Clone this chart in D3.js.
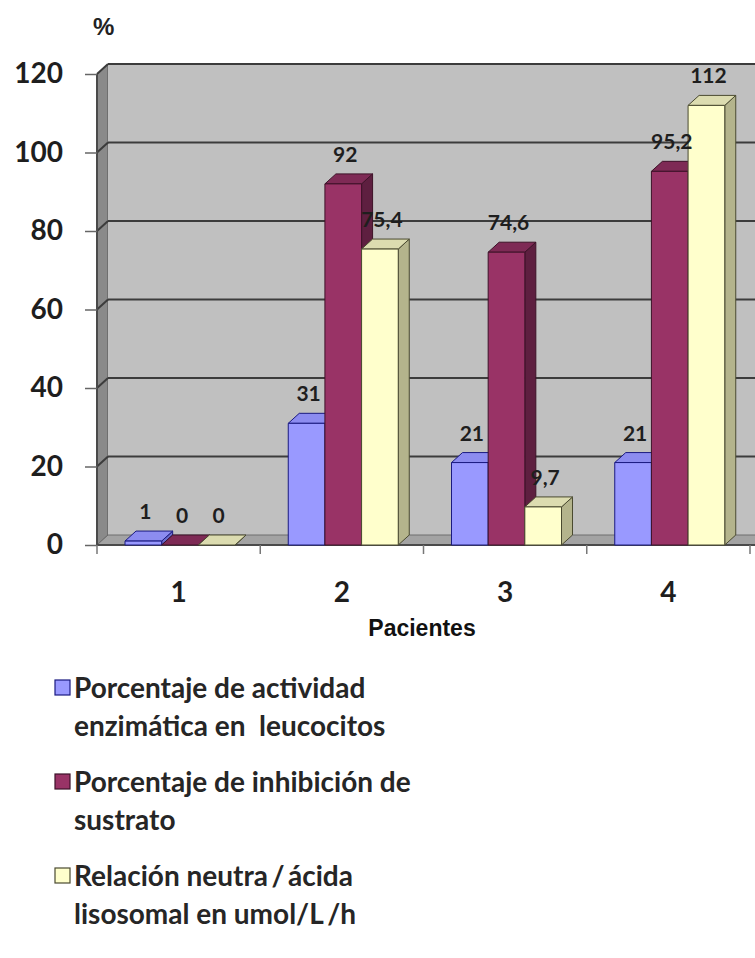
<!DOCTYPE html>
<html>
<head>
<meta charset="utf-8">
<script src="https://cdn.jsdelivr.net/npm/d3@7"></script>
<style>
  html, body { margin: 0; padding: 0; background: #fff; }
  svg { display: block; }
</style>
</head>
<body>
<svg id="chart" width="755" height="958"></svg>
<script>
// Patients on the x axis, three measured series per patient
const categories = ["1", "2", "3", "4"];
const seriesKeys = ["actividad", "inhibicion", "relacion"];
const actividad = [1, 31, 21, 21];
const inhibicion = [0, 92, 74.6, 95.2];
const relacion = [0, 75.4, 9.7, 112];
const yTicks = [0, 20, 40, 60, 80, 100, 120];
const legendLines = [
  ["Porcentaje de actividad", "enzimática en  leucocitos"],
  ["Porcentaje de inhibición de", "sustrato"],
  ["Relación neutra\u2009/\u2009ácida", "lisosomal en umol/L\u2009/h"]
];

const values = { actividad, inhibicion, relacion };

// face colours for each series: front, top, side, outline
const palette = {
  actividad:  { front: "#9999ff", top: "#8c8cf0", side: "#6a6acc", stroke: "#1a1a80" },
  inhibicion: { front: "#993366", top: "#7e2a55", side: "#5e1f40", stroke: "#3d1228" },
  relacion:   { front: "#ffffcc", top: "#dcdcb0", side: "#b4b48c", stroke: "#4a4a30" }
};

const svg = d3.select("#chart");
const W = 755;
const DX = 11, DY = -10;           // oblique depth of the 3D walls and bars
const FONT = "Lato, 'Open Sans', sans-serif";

const y = d3.scaleLinear().domain([0, 120]).range([545, 74]);
const x = d3.scaleBand().domain(categories).range([97, 750]).paddingInner(0).paddingOuter(0);
const x1 = d3.scaleBand().domain(seriesKeys).range([28, 138]).padding(0);

const x0 = x.range()[0];
const y0 = y(0), yTop = y(120);
const pts = a => a.map(p => p.join(",")).join(" ");

// side wall
svg.append("polygon")
  .attr("points", pts([[x0, y0], [x0, yTop], [x0 + DX, yTop + DY], [x0 + DX, y0 + DY]]))
  .attr("fill", "#8a8a8a").attr("stroke", "#555").attr("stroke-width", 1);

// back wall
svg.append("rect")
  .attr("x", x0 + DX).attr("y", yTop + DY)
  .attr("width", W + 20 - x0 - DX).attr("height", y0 - yTop)
  .attr("fill", "#c0c0c0");

// floor
svg.append("polygon")
  .attr("points", pts([[x0, y0], [W + 20, y0], [W + 20 + DX, y0 + DY], [x0 + DX, y0 + DY]]))
  .attr("fill", "#a3a3a3").attr("stroke", "#6e6e6e").attr("stroke-width", 1);

// gridlines across the back wall and down the side wall
const grid = svg.append("g").attr("stroke", "#3c3c3c").attr("stroke-width", 2).attr("fill", "none");
yTicks.filter(t => t > 0).forEach(t => {
  grid.append("line")
    .attr("x1", x0 + DX).attr("x2", W + 20)
    .attr("y1", y(t) + DY).attr("y2", y(t) + DY);
  grid.append("line")
    .attr("x1", x0).attr("x2", x0 + DX)
    .attr("y1", y(t)).attr("y2", y(t) + DY);
});

// front edges of the axes
svg.append("line").attr("x1", x0).attr("x2", x0).attr("y1", y0).attr("y2", yTop)
  .attr("stroke", "#4a4a4a").attr("stroke-width", 2);
svg.append("line").attr("x1", x0).attr("x2", W + 20).attr("y1", y0).attr("y2", y0)
  .attr("stroke", "#4a4a4a").attr("stroke-width", 2);

// y axis ticks and labels
const yAxis = d3.axisLeft(y).tickValues(yTicks).tickSize(12).tickPadding(22);
const gy = svg.append("g").attr("transform", `translate(${x0},0)`).call(yAxis);
gy.select(".domain").remove();
gy.selectAll(".tick line").attr("stroke", "#666").attr("stroke-width", 1.5);
gy.selectAll(".tick text")
  .attr("font-family", FONT).attr("font-weight", 700).attr("font-size", 28)
  .attr("fill", "#1e1e1e");

// x axis: ticks at the band boundaries, labels at band centres
const bounds = categories.map(c => x(c)).concat([x.range()[1]]);
svg.append("g").selectAll("line").data(bounds).join("line")
  .attr("x1", d => d).attr("x2", d => d)
  .attr("y1", y0).attr("y2", y0 + 9)
  .attr("stroke", "#777").attr("stroke-width", 1.5);
svg.append("g").selectAll("text").data(categories).join("text")
  .attr("x", d => x(d) + x.bandwidth() / 2)
  .attr("y", 602)
  .attr("text-anchor", "middle")
  .attr("font-family", FONT).attr("font-weight", 700).attr("font-size", 28)
  .attr("fill", "#1e1e1e")
  .text(d => d);

// bars: front, top and right side faces
const bw = x1.bandwidth();
const barsG = svg.append("g");
const bars = [];
categories.forEach((c, i) => {
  seriesKeys.forEach(k => {
    bars.push({ c, k, v: values[k][i] });
  });
});
bars.forEach(b => {
  const bx = x(b.c) + x1(b.k);
  const by = y(b.v);
  const col = palette[b.k];
  const g = barsG.append("g")
    .attr("stroke", col.stroke).attr("stroke-width", 1).attr("stroke-linejoin", "round");
  g.append("polygon")
    .attr("points", pts([[bx + bw, by], [bx + bw + DX, by + DY], [bx + bw + DX, y0 + DY], [bx + bw, y0]]))
    .attr("fill", col.side);
  g.append("polygon")
    .attr("points", pts([[bx, by], [bx + bw, by], [bx + bw + DX, by + DY], [bx + DX, by + DY]]))
    .attr("fill", col.top);
  g.append("rect")
    .attr("x", bx).attr("y", by).attr("width", bw).attr("height", y0 - by)
    .attr("fill", col.front);
});

// value labels
const fmt = v => String(v).replace(".", ",");
svg.append("g").selectAll("text").data(bars).join("text")
  .attr("x", d => x(d.c) + x1(d.k) + bw / 2 + 2)
  .attr("y", d => y(d.v) - 22)
  .attr("text-anchor", "middle")
  .attr("font-family", FONT).attr("font-weight", 700).attr("font-size", 21)
  .attr("fill", "#1e1e1e")
  .text(d => fmt(d.v));

// unit label
svg.append("text")
  .attr("x", 93).attr("y", 35)
  .attr("font-family", "'Liberation Sans', Arial, sans-serif").attr("font-weight", 700).attr("font-size", 24)
  .attr("fill", "#222")
  .text("%");

// x axis title
svg.append("text")
  .attr("x", 422).attr("y", 636)
  .attr("text-anchor", "middle")
  .attr("font-family", "'Liberation Sans', Arial, sans-serif").attr("font-weight", 700).attr("font-size", 23)
  .attr("fill", "#111")
  .text("Pacientes");

// legend
const legendTop = [698, 792, 886];
const lg = svg.append("g");
seriesKeys.forEach((k, i) => {
  const base = legendTop[i];
  lg.append("rect")
    .attr("x", 55).attr("y", base - 18).attr("width", 15).attr("height", 15)
    .attr("fill", palette[k].front).attr("stroke", palette[k].stroke).attr("stroke-width", 1.2);
  legendLines[i].forEach((line, j) => {
    lg.append("text")
      .attr("x", 74).attr("y", base + j * 38)
      .attr("font-family", FONT).attr("font-weight", 700).attr("font-size", 28)
      .attr("fill", "#262626")
      .attr("xml:space", "preserve")
      .style("white-space", "pre")
      .text(line);
  });
});
</script>
</body>
</html>
